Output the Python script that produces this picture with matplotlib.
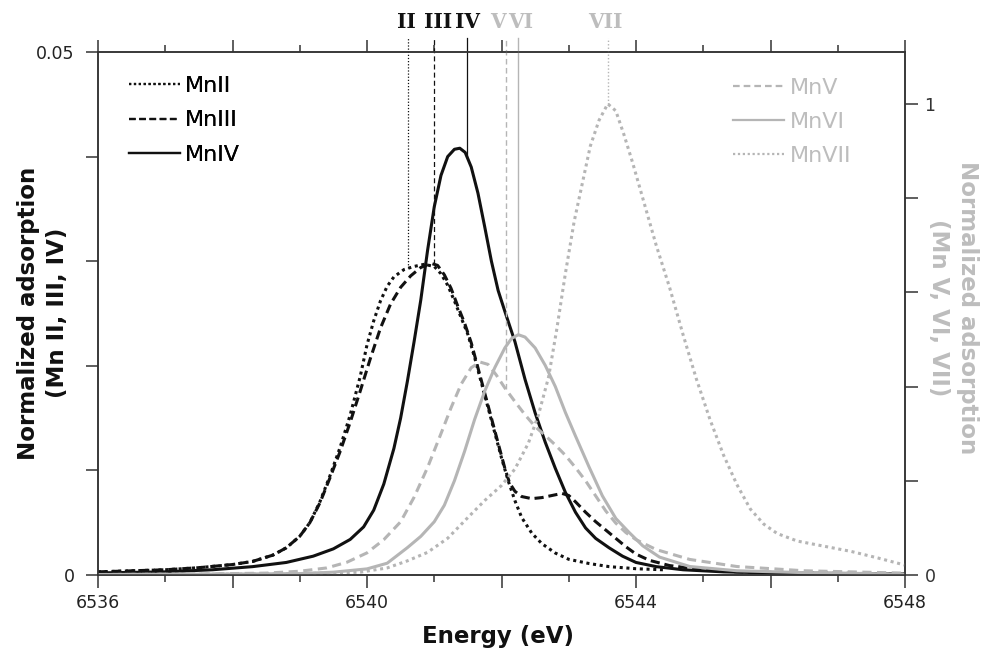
import matplotlib
matplotlib.use("Agg")
import matplotlib.pyplot as plt
from matplotlib.ticker import MultipleLocator, FixedLocator, FuncFormatter
import numpy as np

# ---------------- data ----------------
mn2_E = [6536.0, 6536.5, 6537.0, 6537.5, 6538.0, 6538.3, 6538.6, 6538.8, 6539.0, 6539.15,
         6539.3, 6539.45, 6539.6, 6539.75, 6539.9, 6540.0, 6540.1, 6540.2, 6540.3, 6540.4,
         6540.55, 6540.7, 6540.85, 6541.0, 6541.1, 6541.2, 6541.3, 6541.4, 6541.5, 6541.6,
         6541.7, 6541.8, 6541.9, 6542.0, 6542.1, 6542.2, 6542.3, 6542.45, 6542.6, 6542.8,
         6543.0, 6543.3, 6543.6, 6544.0, 6544.4]
mn2 = [0.0003, 0.0004, 0.0005, 0.0007, 0.0010, 0.0013, 0.0019, 0.0026, 0.0037, 0.0050,
       0.0070, 0.0095, 0.0122, 0.0153, 0.0190, 0.0220, 0.0243, 0.0262, 0.0276, 0.0285,
       0.0292, 0.0295, 0.0297, 0.0295, 0.0288, 0.0277, 0.0262, 0.0246, 0.0230, 0.0208,
       0.0184, 0.0160, 0.0136, 0.0112, 0.0090, 0.0071, 0.0055, 0.0040, 0.0030, 0.0021,
       0.0015, 0.0011, 0.0008, 0.0006, 0.0005]

mn3_E = [6536.0, 6536.5, 6537.0, 6537.5, 6538.0, 6538.3, 6538.6, 6538.8, 6539.0, 6539.15,
         6539.3, 6539.45, 6539.6, 6539.75, 6539.9, 6540.05, 6540.2, 6540.35, 6540.5, 6540.65,
         6540.8, 6540.95, 6541.05, 6541.15, 6541.25, 6541.35, 6541.45, 6541.55, 6541.65, 6541.75,
         6541.85, 6541.95, 6542.05, 6542.12, 6542.2, 6542.3, 6542.45, 6542.6, 6542.75, 6542.9,
         6543.0, 6543.1, 6543.25, 6543.4, 6543.55, 6543.7, 6543.85, 6544.0, 6544.2, 6544.5,
         6545.0, 6545.5, 6546.5, 6548.0]
mn3 = [0.0003, 0.0004, 0.0005, 0.0007, 0.0010, 0.0013, 0.0019, 0.0026, 0.0037, 0.0050,
       0.0069, 0.0093, 0.0118, 0.0146, 0.0176, 0.0207, 0.0236, 0.0259, 0.0275, 0.0286,
       0.0294, 0.0298, 0.0296, 0.0287, 0.0274, 0.0257, 0.0241, 0.0222, 0.0198, 0.0174,
       0.0150, 0.0126, 0.0102, 0.0088, 0.0080, 0.0075, 0.0073, 0.0074, 0.0076, 0.0078,
       0.0076, 0.0070, 0.0060, 0.0051, 0.0043, 0.0035, 0.0027, 0.0020, 0.0014, 0.0009,
       0.0005, 0.0003, 0.0002, 0.0001]

mn4_E = [6536.0, 6537.0, 6537.7, 6538.3, 6538.8, 6539.2, 6539.5, 6539.75, 6539.95, 6540.1,
         6540.25, 6540.4, 6540.5, 6540.6, 6540.7, 6540.8, 6540.9, 6541.0, 6541.1, 6541.2,
         6541.3, 6541.38, 6541.46, 6541.55, 6541.65, 6541.75, 6541.85, 6541.95, 6542.05, 6542.2,
         6542.35, 6542.5, 6542.65, 6542.8, 6542.95, 6543.1, 6543.25, 6543.4, 6543.6, 6543.8,
         6544.0, 6544.3, 6544.7, 6545.3, 6546.0, 6548.0]
mn4 = [0.0002, 0.0003, 0.0005, 0.0008, 0.0012, 0.0018, 0.0025, 0.0034, 0.0046, 0.0062,
       0.0087, 0.0121, 0.0150, 0.0185, 0.0223, 0.0263, 0.0310, 0.0352, 0.0382, 0.0400,
       0.0407, 0.0408, 0.0404, 0.0390, 0.0365, 0.0333, 0.0300, 0.0272, 0.0252, 0.0223,
       0.0187, 0.0155, 0.0127, 0.0102, 0.0079, 0.0060, 0.0045, 0.0035, 0.0026, 0.0018,
       0.0012, 0.0008, 0.0005, 0.0003, 0.0002, 0.0001]

mn5_E = [6536.0, 6537.5, 6538.5, 6539.0, 6539.4, 6539.7, 6540.0, 6540.25, 6540.5, 6540.7,
         6540.9, 6541.1, 6541.25, 6541.4, 6541.55, 6541.68, 6541.8, 6541.92, 6542.05, 6542.2,
         6542.35, 6542.5, 6542.65, 6542.8, 6542.95, 6543.1, 6543.25, 6543.4, 6543.55, 6543.7,
         6543.85, 6544.0, 6544.3, 6544.8, 6545.5, 6546.5, 6548.0]
mn5 = [0.001, 0.002, 0.004, 0.008, 0.015, 0.027, 0.047, 0.075, 0.113, 0.165,
       0.228, 0.300, 0.355, 0.405, 0.440, 0.452, 0.447, 0.425, 0.397, 0.368,
       0.340, 0.315, 0.296, 0.276, 0.254, 0.228, 0.200, 0.168, 0.136, 0.110,
       0.090, 0.075, 0.054, 0.033, 0.018, 0.009, 0.004]

mn6_E = [6536.0, 6538.0, 6539.0, 6539.5, 6540.0, 6540.3, 6540.6, 6540.8, 6541.0, 6541.15,
         6541.3, 6541.45, 6541.6, 6541.75, 6541.9, 6542.05, 6542.15, 6542.25, 6542.35, 6542.5,
         6542.65, 6542.8, 6542.95, 6543.1, 6543.3, 6543.5, 6543.7, 6543.9, 6544.1, 6544.35,
         6544.8, 6545.5, 6546.5, 6548.0]
mn6 = [0.001, 0.002, 0.003, 0.006, 0.013, 0.025, 0.058, 0.082, 0.113, 0.148,
       0.200, 0.262, 0.330, 0.390, 0.440, 0.482, 0.502, 0.510, 0.505, 0.482,
       0.445, 0.400, 0.345, 0.295, 0.230, 0.168, 0.120, 0.090, 0.062, 0.038,
       0.018, 0.009, 0.005, 0.002]

mn7_E = [6536.0, 6538.0, 6539.0, 6539.9, 6540.3, 6540.6, 6540.9, 6541.2, 6541.5, 6541.75,
         6542.0, 6542.2, 6542.4, 6542.55, 6542.7, 6542.82, 6542.95, 6543.08, 6543.2, 6543.32,
         6543.45, 6543.58, 6543.7, 6543.82, 6543.95, 6544.1, 6544.3, 6544.5, 6544.7, 6544.9,
         6545.1, 6545.3, 6545.5, 6545.7, 6545.9, 6546.1, 6546.4, 6546.8, 6547.2, 6547.6,
         6548.0]
mn7 = [0.001, 0.002, 0.003, 0.006, 0.015, 0.030, 0.048, 0.078, 0.122, 0.158,
       0.190, 0.225, 0.280, 0.340, 0.420, 0.520, 0.640, 0.750, 0.830, 0.910,
       0.965, 1.000, 0.985, 0.935, 0.875, 0.800, 0.700, 0.610, 0.510, 0.415,
       0.330, 0.255, 0.192, 0.140, 0.108, 0.088, 0.072, 0.061, 0.050, 0.036,
       0.021]

# edge-position markers (eV) and their labels
marker_E = [6540.61, 6541.00, 6541.49, 6542.06, 6542.25, 6543.59]
marker_labels = ["II", "III", "IV", "V", "VI", "VII"]

left_labels = ["MnII", "MnIII", "MnIV"]
right_labels = ["MnV", "MnVI", "MnVII"]

# ---------------- style ----------------
BLACK = "#111111"
GRAY = "#b5b5b5"
TXTGRAY = "#bdbdbd"
SPINE = "#333333"

plt.rcParams["font.family"] = ["DejaVu Sans"]

fig = plt.figure(figsize=(9.95, 6.55), dpi=100)
ax = fig.add_axes([98 / 995, 1 - 575 / 655, 807 / 995, 523 / 655])
ax2 = ax.twinx()

lw = 2.2
l2, = ax.plot(mn2_E, mn2, color=BLACK, lw=lw, ls=(0, (1, 1.2)), label=left_labels[0])
l3, = ax.plot(mn3_E, mn3, color=BLACK, lw=lw, ls=(0, (3, 1.6)), label=left_labels[1])
l4, = ax.plot(mn4_E, mn4, color=BLACK, lw=lw, ls="-", label=left_labels[2])

l5, = ax2.plot(mn5_E, mn5, color=GRAY, lw=lw, ls=(0, (3, 1.8)), label=right_labels[0])
l6, = ax2.plot(mn6_E, mn6, color=GRAY, lw=lw, ls="-", label=right_labels[1])
l7, = ax2.plot(mn7_E, mn7, color=GRAY, lw=lw, ls=(0, (1, 1.2)), label=right_labels[2])

ylim_left = 0.05
ylim_right = 1.11
ax.set_xlim(6536, 6548)
ax.set_ylim(0, ylim_left)
ax2.set_ylim(0, ylim_right)

# vertical marker lines, from the curve up above the frame
top_frac = 1.027
series_left = [(mn2_E, mn2), (mn3_E, mn3), (mn4_E, mn4)]
series_right = [(mn5_E, mn5), (mn6_E, mn6), (mn7_E, mn7)]
vstyles_left = [(0, (1, 1.5)), (0, (4, 2.5)), "-"]
vstyles_right = [(0, (4, 2.5)), "-", (0, (1, 1.5))]
for i in range(3):
    e = marker_E[i]
    ybot = np.interp(e, *series_left[i])
    ax.plot([e, e], [ybot, ylim_left * top_frac], color=BLACK, lw=0.9,
            ls=vstyles_left[i], clip_on=False)
    e = marker_E[i + 3]
    ybot = np.interp(e, *series_right[i])
    ax2.plot([e, e], [ybot, ylim_right * top_frac], color=GRAY, lw=1.0,
             ls=vstyles_right[i], clip_on=False)

# marker labels above frame
label_y = 1.057
trans = ax.get_xaxis_transform()
ha_list = ["center", "center", "center", "right", "left", "center"]
dx = [-0.02, 0.05, 0.01, 0.01, -0.15, -0.05]
for i, (e, s) in enumerate(zip(marker_E, marker_labels)):
    ax.text(e + dx[i], label_y, s, transform=trans, ha=ha_list[i], va="center",
            family="DejaVu Serif", fontweight="bold", fontsize=14.5,
            color=BLACK if i < 3 else TXTGRAY, clip_on=False)

# ---------------- axes / ticks ----------------
for a in (ax, ax2):
    for sp in a.spines.values():
        sp.set_color(SPINE)
        sp.set_linewidth(1.1)

ax.xaxis.set_major_locator(MultipleLocator(2))
ax.xaxis.set_minor_locator(MultipleLocator(1))
ax.xaxis.set_major_formatter(FuncFormatter(lambda v, p: f"{v:.0f}" if round(v) % 4 == 0 else ""))
ax.tick_params(axis="x", which="major", direction="out", length=9, width=1.1,
               top=True, bottom=True, color=SPINE, labelsize=12.5, labelcolor="#222222", pad=5)
ax.tick_params(axis="x", which="minor", direction="out", length=5, width=1.1,
               top=True, bottom=True, color=SPINE)

ax.yaxis.set_major_locator(MultipleLocator(0.01))
ax.yaxis.set_major_formatter(FuncFormatter(
    lambda v, p: "0" if abs(v) < 1e-9 else ("0.05" if abs(v - 0.05) < 1e-9 else "")))
ax.tick_params(axis="y", which="major", direction="out", length=9, width=1.1,
               left=True, right=False, color=SPINE, labelsize=12.5, labelcolor="#222222", pad=8)

ax2.yaxis.set_major_locator(FixedLocator([0, 0.2, 0.4, 0.6, 0.8, 1.0]))
ax2.yaxis.set_major_formatter(FuncFormatter(
    lambda v, p: "0" if abs(v) < 1e-9 else ("1" if abs(v - 1) < 1e-9 else "")))
ax2.tick_params(axis="y", which="major", direction="out", length=9, width=1.1,
                right=True, left=False, color=SPINE, labelsize=12.5, labelcolor="#333333", pad=5)

# ---------------- labels ----------------
fig.text(498 / 995, 1 - 637 / 655, "Energy (eV)", ha="center", va="center",
         fontsize=16.5, fontweight="bold", color=BLACK)
fig.text(43 / 995, 1 - 313 / 655, "Normalized adsorption\n(Mn II, III, IV)", rotation=90,
         ha="center", va="center", multialignment="center", linespacing=1.35,
         fontsize=16.5, fontweight="bold", color=BLACK)
fig.text(953 / 995, 1 - 308 / 655, "Normalized adsorption\n(Mn V, VI, VII)", rotation=270,
         ha="center", va="center", multialignment="center", linespacing=1.35,
         fontsize=16.5, fontweight="bold", color=TXTGRAY)

# ---------------- legends ----------------
leg1 = ax.legend(handles=[l2, l3, l4], loc="upper left", bbox_to_anchor=(0.038, 0.954),
                 frameon=False, fontsize=16, handlelength=2.3, handletextpad=0.25,
                 labelspacing=0.64, borderpad=0, borderaxespad=0)
for h in leg1.get_lines():
    h.set_linewidth(1.6)
ax.add_artist(leg1)

leg2 = ax2.legend(handles=[l5, l6, l7], loc="upper left", bbox_to_anchor=(0.787, 0.951),
                  frameon=False, fontsize=16, handlelength=2.3, handletextpad=0.25,
                  labelspacing=0.64, borderpad=0, borderaxespad=0, labelcolor=TXTGRAY)
for h in leg2.get_lines():
    h.set_linewidth(1.6)

fig.savefig("out.png", dpi=100)
